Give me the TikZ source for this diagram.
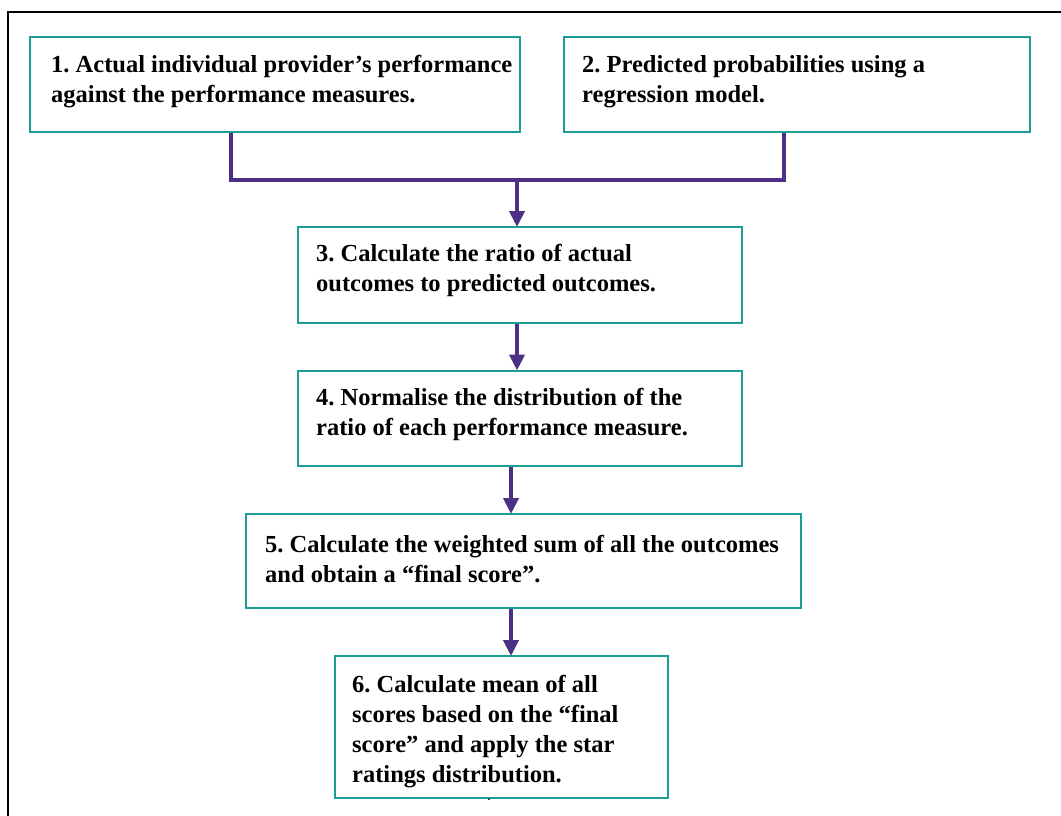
\documentclass[tikz,border=0pt]{standalone}
\usepackage{fontspec}
\setmainfont{Liberation Serif}
\usetikzlibrary{arrows.meta,calc}
\definecolor{boxteal}{HTML}{1A9E96}
\definecolor{connpurple}{HTML}{4E2F86}
\frenchspacing
\tikzset{
  stepbox/.style={draw=boxteal, line width=2pt, rectangle, inner sep=0pt},
  steptext/.style={anchor=north west, align=left, inner sep=0pt, font=\fontsize{24.5}{30}\selectfont\bfseries},
  conn/.style={draw=connpurple, line width=4pt},
  arr/.style={conn, -{Triangle[length=16pt,width=15pt]}, shorten >=-1pt},
}
\begin{document}
\begin{tikzpicture}[x=1pt,y=-1pt]
\useasboundingbox (0,0) rectangle (1061,816);
\fill[white] (0,0) rectangle (1061,816);
% outer frame
\draw[line width=2pt] (8,816) -- (8,12) -- (1061,12);
% boxes
\node[stepbox, minimum width=490pt, minimum height=95pt] (b1) at (275,84.5) {};
\node[stepbox, minimum width=466pt, minimum height=95pt] (b2) at (797,84.5) {};
\node[stepbox, minimum width=443.5pt, minimum height=95.5pt] (b3) at (519.75,274.75) {};
\node[stepbox, minimum width=443.5pt, minimum height=95.5pt] (b4) at (519.75,418.25) {};
\node[stepbox, minimum width=554.7pt, minimum height=94.3pt] (b5) at (523.35,561.15) {};
\node[stepbox, minimum width=333pt, minimum height=142pt] (b6) at (501.5,727) {};
% texts
\node[steptext] (t1) at ($(b1.north west)+(22,19)$) {1. Actual individual provider’s performance\\against the performance measures.};
\node[steptext] (t2) at ($(b2.north west)+(19,19)$) {2. Predicted probabilities using a\\regression model.};
\node[steptext] (t3) at ($(b3.north west)+(19,18.5)$) {3. Calculate the ratio of actual\\outcomes to predicted outcomes.};
\node[steptext] (t4) at ($(b4.north west)+(19,19)$) {4. Normalise the distribution of the\\ratio of each performance measure.};
\node[steptext] (t5) at ($(b5.north west)+(20,22)$) {5. Calculate the weighted sum of all the outcomes\\and obtain a “final score”.};
\node[steptext] (t6) at ($(b6.north west)+(18,20)$) {6. Calculate mean of all\\scores based on the “final\\score” and apply the star\\ratings distribution.};
% connectors
\coordinate (j) at (517,180);
\draw[conn] ($(b1.south west)+(202,0)$) |- (j) -| ($(b2.south west)+(221,0)$);
\draw[arr] (j) -- (j |- b3.north);
\draw[arr] (b3.south -| j) -- (j |- b4.north);
\draw[arr] ($(b4.south west)+(214,0)$) -- ($(b5.north west)+(266,0)$);
\draw[arr] ($(b5.south west)+(266,0)$) -- ($(b6.north west)+(177,0)$);
\fill (489,799) circle (1pt);
\end{tikzpicture}
\end{document}
